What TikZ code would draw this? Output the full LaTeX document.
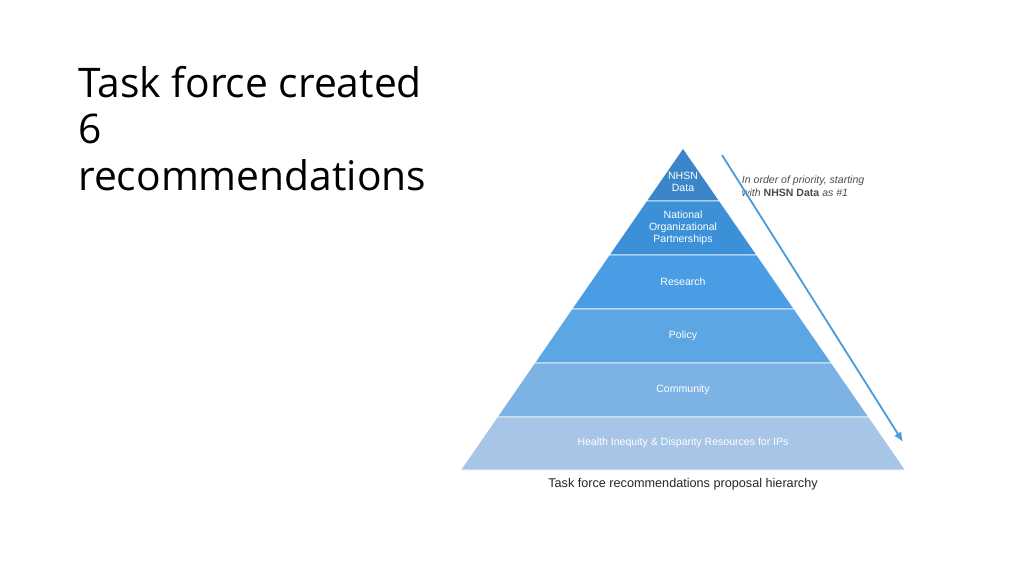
\documentclass[tikz,border=0pt]{standalone}
\usepackage{fontspec}
\setmainfont{Open Sans}
\newfontfamily\arialish{Liberation Sans}
\usetikzlibrary{arrows.meta}
\definecolor{layA}{HTML}{3A86C8}
\definecolor{layB}{HTML}{3C90D8}
\definecolor{layC}{HTML}{4A9DE4}
\definecolor{layD}{HTML}{5DA6E4}
\definecolor{layE}{HTML}{7DB3E4}
\definecolor{layF}{HTML}{A6C5E7}
\definecolor{arrowblue}{HTML}{4A9DDC}
\tikzset{lay/.style={draw=white,line width=0.6pt},
  lbl/.style={font=\arialish\fontsize{7.5}{8.5}\selectfont,text=white,align=center},
  captxt/.style={font=\arialish\fontsize{9}{10}\selectfont,text=black!85}}
\begin{document}
\begin{tikzpicture}[x=0.025cm,y=-0.025cm]
  \useasboundingbox (0,0) rectangle (1024,575);
  \fill[white] (0,0) rectangle (1024,575);
  % layers, apex at (683,148), half width grows 0.691 per px
  \foreach \t/\b/\c in {148/201/layA,201/255/layB,255/309/layC,309/363/layD,363/417/layE,417/470/layF}{
    \pgfmathsetmacro\wt{0.691*(\t-148)}
    \pgfmathsetmacro\wb{0.691*(\b-148)}
    \filldraw[lay,fill=\c] (683-\wt,\t) -- (683+\wt,\t) -- (683+\wb,\b) -- (683-\wb,\b) -- cycle;
  }
  \node[lbl] (nhsn) at (683,182) {NHSN\\Data};
  \node[lbl] (partner) at (683,228) {National\\Organizational\\Partnerships};
  \node[lbl] (research) at (683,282) {Research};
  \node[lbl] (policy) at (683,336) {Policy};
  \node[lbl] (community) at (683,390) {Community};
  \node[lbl] (health) at (683,443) {Health Inequity \& Disparity Resources for IPs};
  \node[captxt] (hier) at (683,484) {Task force recommendations proposal hierarchy};
  \node[font=\arialish\fontsize{7.5}{9}\selectfont,text=black!70,align=left,anchor=west] (order) at (737,186)
    {\itshape In order of priority, starting\\\itshape with \textbf{\upshape NHSN Data} as \#1};
  \coordinate (astart) at (722,155);
  \coordinate (aend) at (903,442);
  \draw[arrowblue,line width=1.3pt,-{Latex[length=7pt,width=6pt]}] (astart) -- (aend);
  \node[font=\fontsize{29}{33}\selectfont,align=left,anchor=north west,inner sep=0pt] (title) at (78,66)
    {Task force created\\6\\recommendations};
\end{tikzpicture}
\end{document}
